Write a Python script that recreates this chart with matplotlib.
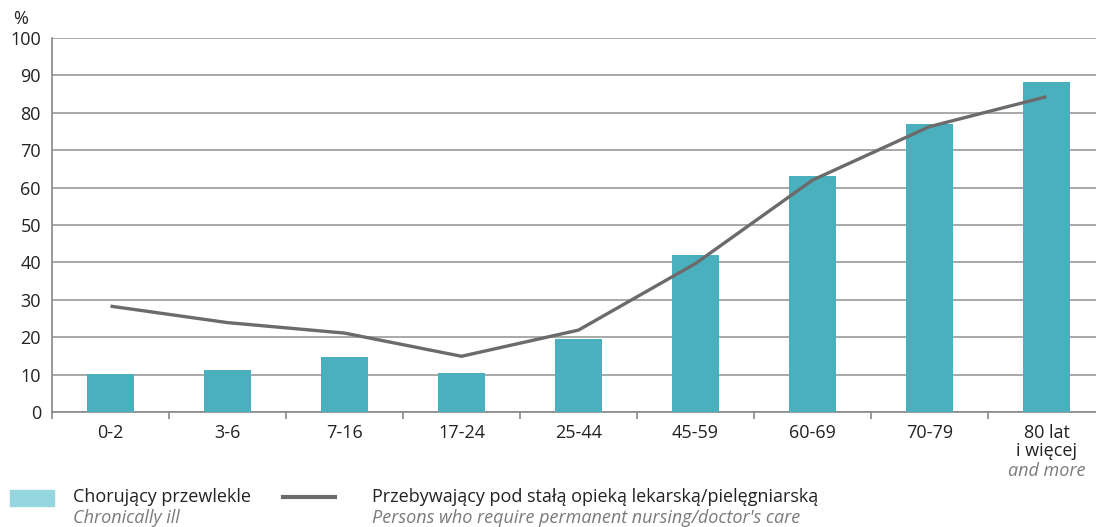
import matplotlib
matplotlib.use("Agg")
import matplotlib.pyplot as plt
import numpy as np

categories = ["0-2", "3-6", "7-16", "17-24", "25-44", "45-59", "60-69", "70-79", "80 lat\ni więcej"]
chronic = [10.2, 11.2, 14.8, 10.5, 19.6, 42.0, 63.2, 77.0, 88.2]
care = [28.3, 23.9, 21.1, 14.9, 21.9, 39.7, 62.0, 76.3, 84.3]
yticks = list(range(0, 101, 10))

plt.rcParams['font.family'] = ['Open Sans', 'DejaVu Sans']

W, H = 1096, 527
fig = plt.figure(figsize=(W/100, H/100), dpi=100)
# axes in pixel coords: left 52, right 1105, top 38, bottom 412
ax = fig.add_axes([52/W, 1-412/H, (1105-52)/W, (412-38)/H])

x = np.arange(len(categories))
bar_col = "#4bb0bd"
ax.bar(x, chronic, width=0.40, color=bar_col, zorder=3)
ax.plot(x, care, color="#6b6b6b", lw=2.4, zorder=4, solid_capstyle='butt')

ax.set_xlim(-0.5, len(categories)-0.5)
ax.set_ylim(0, 100)
ax.set_yticks(yticks)
ax.set_yticklabels([str(v) for v in yticks], fontsize=13, color="#222222")
ax.yaxis.grid(True, color="#9a9a9a", lw=1.2, zorder=0)
ax.tick_params(axis='y', length=0, pad=8)

ax.set_xticks(x)
ax.set_xticklabels(categories, fontsize=13, color="#222222", linespacing=0.95, va='top')
ax.set_xticks(np.arange(len(categories)+1)-0.5, minor=True)
ax.tick_params(axis='x', which='major', length=0, pad=9)
ax.tick_params(axis='x', which='minor', length=5, color="#888888", width=1.2)

for s in ['top', 'right']:
    ax.spines[s].set_visible(False)
ax.spines['left'].set_color("#888888")
ax.spines['left'].set_linewidth(1.2)
ax.spines['bottom'].set_color("#888888")
ax.spines['bottom'].set_linewidth(1.2)

fig.text(21/W, 1-19/H, "%", fontsize=13, ha='center', va='center', color="#222222")
ax.text(8, -0.134, "and more", transform=ax.get_xaxis_transform(), ha='center', va='top',
        fontsize=13, style='italic', color="#7a7a7a")

# legend
from matplotlib.patches import Rectangle
from matplotlib.lines import Line2D
fig.add_artist(Rectangle((10/W, 1-506/H), 44/W, 16/H, transform=fig.transFigure, color="#96d6df"))
fig.text(73/W, 1-497/H, "Chorujący przewlekle", fontsize=13, va='center', color="#222222")
fig.text(73/W, 1-518/H, "Chronically ill", fontsize=13, va='center', style='italic', color="#7a7a7a")
fig.add_artist(Line2D([283/W, 335/W], [1-497/H, 1-497/H], transform=fig.transFigure, color="#6b6b6b", lw=3))
fig.text(372/W, 1-497/H, "Przebywający pod stałą opieką lekarską/pielęgniarską", fontsize=13, va='center', color="#222222")
fig.text(372/W, 1-518/H, "Persons who require permanent nursing/doctor's care", fontsize=13, va='center', style='italic', color="#7a7a7a")

fig.savefig("out.png", dpi=100)
